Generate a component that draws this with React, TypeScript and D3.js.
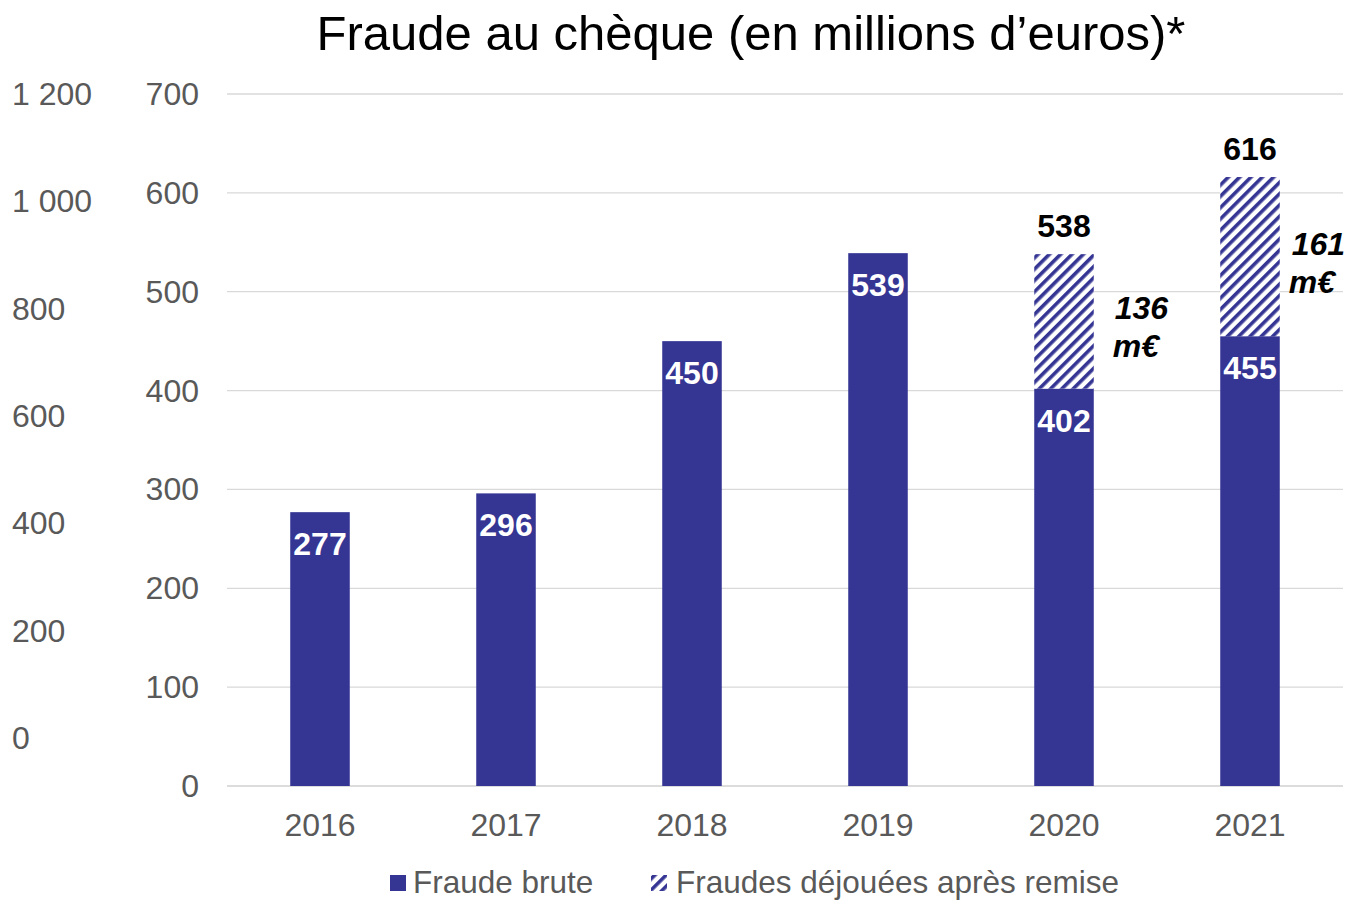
import React from "react";
import * as d3 from "d3";

const years = ["2016", "2017", "2018", "2019", "2020", "2021"];
const fraudeBrute = [277, 296, 450, 539, 402, 455];
const fraudesDejouees = [0, 0, 0, 0, 136, 161];
const leftTicks = [0, 200, 400, 600, 800, 1000, 1200];
const rightTicks = [0, 100, 200, 300, 400, 500, 600, 700];
const title = "Fraude au chèque (en millions d’euros)*";
const legendLabels = ["Fraude brute", "Fraudes déjouées après remise"];

const W = 1345, H = 900;
const FONT = "'Liberation Sans', Arial, sans-serif";
const BAR = "#353594";
const AXIS_TXT = "#595959";
const FS = 32;

export default function App() {
  const x = d3.scaleBand<string>().domain(years).range([227, 1343]).paddingInner(0.68).paddingOuter(0.34);
  const y = d3.scaleLinear().domain([0, 700]).range([786, 94]);
  const y2 = d3.scaleLinear().domain([0, 1200]).range([738, 94]);
  const fmt = (v: number) => d3.format(",")(v).replace(/,/g, " ");

  return (
    <svg width={W} height={H} style={{ position: "absolute", left: 0, top: 0 }} fontFamily={FONT}>
      <defs>
        <pattern id="hatch" patternUnits="userSpaceOnUse" width={8} height={8} patternTransform="rotate(45)">
          <rect width={8} height={8} fill="#fff" />
          <rect x={0} y={0} width={3.6} height={8} fill={BAR} />
        </pattern>
      </defs>
      <rect width={W} height={H} fill="#fff" />
      <text x={751} y={50} textAnchor="middle" fontSize={49} fill="#000">{title}</text>

      {rightTicks.map((t) => (
        <g key={"g" + t}>
          <line x1={227} x2={1343} y1={y(t)} y2={y(t)} stroke={t === 0 ? "#d0d0d0" : "#d9d9d9"} strokeWidth={1.3} />
          <text x={199} y={y(t) + 11} textAnchor="end" fontSize={FS} fill={AXIS_TXT}>{t}</text>
        </g>
      ))}
      {leftTicks.map((t) => (
        <text key={"l" + t} x={12} y={y2(t) + 11} textAnchor="start" fontSize={FS} fill={AXIS_TXT}>{fmt(t)}</text>
      ))}

      {years.map((yr, i) => {
        const bx = x(yr)!;
        const bw = x.bandwidth();
        const cx = bx + bw / 2;
        const b = fraudeBrute[i];
        const d = fraudesDejouees[i];
        const tot = b + d;
        const last = i === years.length - 1;
        return (
          <g key={yr}>
            <rect x={bx} y={y(b)} width={bw} height={y(0) - y(b)} fill={BAR} />
            {d > 0 && <rect x={bx} y={y(tot)} width={bw} height={y(b) - y(tot)} fill="url(#hatch)" />}
            <text x={cx} y={y(b) + 43} textAnchor="middle" fontSize={FS} fontWeight="bold" fill="#fff">{b}</text>
            {d > 0 && (
              <>
                <text x={cx} y={y(tot) - 17} textAnchor="middle" fontSize={FS} fontWeight="bold" fill="#000">{tot}</text>
                <text x={bx + bw + (last ? 12 : 21)} y={(y(tot) + y(b)) / 2 - 2} fontSize={FS} fontWeight="bold" fontStyle="italic" fill="#000">{d}</text>
                <text x={bx + bw + (last ? 9 : 19)} y={(y(tot) + y(b)) / 2 + 36} fontSize={FS} fontWeight="bold" fontStyle="italic" fill="#000">m€</text>
              </>
            )}
            <text x={cx} y={836} textAnchor="middle" fontSize={FS} fill={AXIS_TXT}>{yr}</text>
          </g>
        );
      })}

      <rect x={390} y={875} width={16} height={16} fill={BAR} />
      <text x={413} y={893} fontSize={31.5} fill={AXIS_TXT}>{legendLabels[0]}</text>
      <rect x={651} y={875} width={16} height={16} fill="url(#hatch)" />
      <text x={676} y={893} fontSize={31.5} fill={AXIS_TXT}>{legendLabels[1]}</text>
    </svg>
  );
}
